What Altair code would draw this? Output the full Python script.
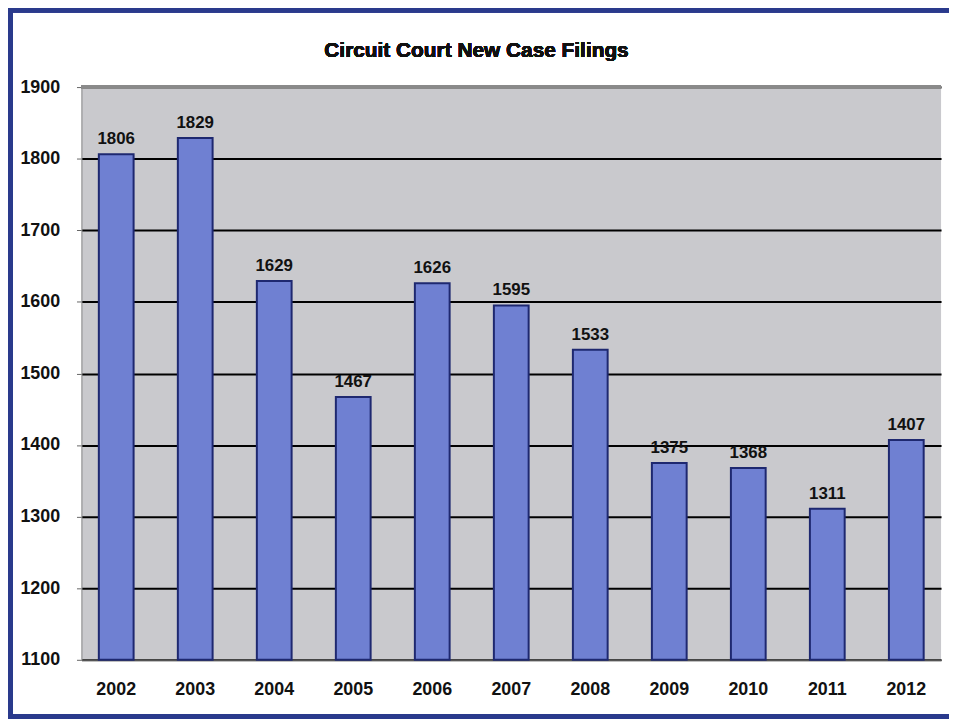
import altair as alt
import pandas as pd

years = ["2002", "2003", "2004", "2005", "2006", "2007", "2008", "2009", "2010", "2011", "2012"]
filings = [1806, 1829, 1629, 1467, 1626, 1595, 1533, 1375, 1368, 1311, 1407]
y_ticks = [1100, 1200, 1300, 1400, 1500, 1600, 1700, 1800, 1900]
y_base = 1100
title_text = "Circuit Court New Case Filings"

df = pd.DataFrame({"year": years, "filings": filings})

FONT = "Liberation Sans"
W, H = 866, 577

x = alt.X("year:N", sort=years, title=None,
          scale=alt.Scale(paddingInner=0.56, paddingOuter=0.22),
          axis=alt.Axis(labelAngle=0, labelFont=FONT, labelFontSize=18, labelFontWeight="bold",
                        labelColor="#111111", labelPadding=21, ticks=False,
                        domainColor="#555555", domainWidth=1.5, grid=False))
y = alt.Y("filings:Q", title=None,
          scale=alt.Scale(domain=[1100, 1900], nice=False, zero=False),
          axis=alt.Axis(values=y_ticks, format="d", labelFont=FONT, labelFontSize=18,
                        labelFontWeight="bold",
                        labelColor="#111111", labelPadding=17, tickSize=5, tickColor="#666666",
                        domainColor="#8a8a8a", domainWidth=1,
                        grid=True, gridColor="#000000", gridWidth=2))

bars = alt.Chart(df).mark_bar(color="#6f80d2", stroke="#1e2870", strokeWidth=2).encode(
    x=x, y=y, y2=alt.datum(y_base))

labels = alt.Chart(df).mark_text(font=FONT, fontSize=17, fontWeight="bold", color="#111111",
                                 baseline="alphabetic", dy=-10).encode(
    x=alt.X("year:N", sort=years), y="filings:Q", text="filings:Q")

top_line = alt.Chart(df).mark_rule(color="#8a8a8a", strokeWidth=3).encode(
    x=alt.value(0), x2=alt.value(W), y=alt.value(0))

frame = alt.Chart(df).mark_rect(fillOpacity=0, stroke="#2a3a8c", strokeWidth=5).encode(
    x=alt.value(-72), x2=alt.value(882), y=alt.value(-78), y2=alt.value(634))

title = alt.Chart(df).mark_text(font=FONT, fontSize=21, fontWeight="bold", color="#111111",
                                align="center", baseline="alphabetic").encode(
    x=alt.value(W / 2 - 35), y=alt.value(-30), text=alt.value(title_text))

chart = alt.layer(bars, top_line, labels, frame, title).properties(
    width=W, height=H,
    autosize=alt.AutoSizeParams(type="none"),
    padding={"left": 74, "top": 77, "right": 8, "bottom": 60},
).configure(background="#ffffff").configure_view(fill="#c9c9cd", stroke=None)

chart.save("out.html", embed_options={"renderer": "svg", "actions": False})
